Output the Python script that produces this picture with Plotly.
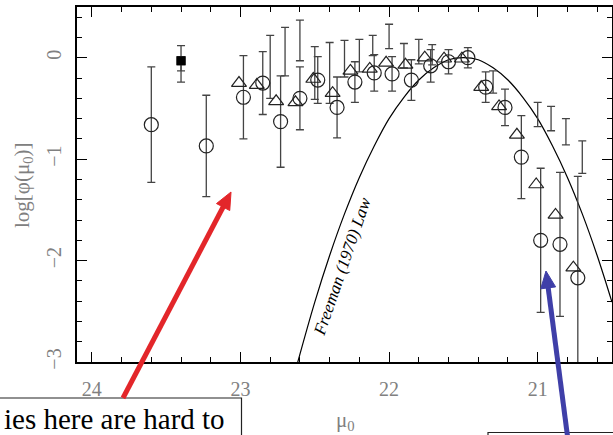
import math
import plotly.graph_objects as go

# ---------------- data ----------------
circ_mu = [23.60, 23.23, 22.98, 22.85, 22.73, 22.60, 22.48, 22.35, 22.23, 22.10, 21.98,
           21.85, 21.72, 21.60, 21.47, 21.35, 21.22, 21.11, 20.98, 20.85, 20.73]
circ_logphi = [-0.66, -0.87, -0.39, -0.25, -0.63, -0.40, -0.22, -0.49, -0.24, -0.15, -0.16,
               -0.22, -0.08, -0.04, 0.00, -0.29, -0.49, -0.98, -1.80, -1.84, -2.17]
circ_err = [0.57, 0.50, 0.41, 0.31, 0.45, 0.31, 0.23, 0.30, 0.20, 0.18, 0.17,
            0.20, 0.16, 0.12, 0.10, 0.15, 0.18, 0.41, 0.71, 0.71, 1.00]

tri_mu = [23.01, 22.89, 22.76, 22.63, 22.51, 22.38, 22.26, 22.13, 22.02, 21.89,
          21.76, 21.63, 21.51, 21.38, 21.26, 21.14, 21.01, 20.88, 20.76]
tri_logphi = [-0.25, -0.27, -0.43, -0.44, -0.21, -0.35, -0.13, -0.11, -0.05, -0.07,
              0.00, -0.01, -0.01, -0.29, -0.48, -0.76, -1.25, -1.55, -2.07]

bar_mu = [22.80, 22.70, 22.60, 22.50, 22.40, 22.30, 22.20, 22.11, 22.00, 21.90,
          21.80, 21.71, 21.30, 21.00, 20.91, 20.81, 20.70]
bar_center = [-0.09, 0.06, 0.17, -0.15, -0.15, -0.01, 0.02, 0.12, 0.21, 0.02,
              0.06, 0.03, -0.24, -0.56, -0.60, -0.73, -0.98]
bar_err = [0.31, 0.24, 0.20, 0.26, 0.30, 0.18, 0.16, 0.10, 0.12, 0.12,
           0.12, 0.10, 0.11, 0.12, 0.12, 0.13, 0.16]

sq_mu = [23.40]
sq_logphi = [-0.03]
sq_outer_plus, sq_outer_minus = [0.15], [0.21]
sq_inner_plus, sq_inner_minus = [0.04], [0.10]

free_mu = [22.62, 22.5, 22.4, 22.3, 22.2, 22.1, 22.0, 21.9, 21.8, 21.7, 21.6, 21.5,
           21.4, 21.3, 21.2, 21.1, 21.0, 20.9, 20.8, 20.7, 20.6, 20.5]
free_logphi = [-3.03, -2.41, -1.95, -1.54, -1.18, -0.87, -0.60, -0.39, -0.22, -0.10, -0.02, 0.0,
               -0.02, -0.10, -0.22, -0.39, -0.60, -0.87, -1.18, -1.54, -1.95, -2.41]

x_ticks = [24, 23, 22, 21]
x_ticktext = ["24", "23", "22", "21"]
y_ticks = [0, -1, -2, -3]
y_ticktext = ["0", "\u22121", "\u22122", "\u22123"]

# ---------------- figure ----------------
INK = "#222222"
BAR = "#444444"
fig = go.Figure()

fig.add_trace(go.Scatter(
    x=free_mu, y=free_logphi, mode="lines",
    line=dict(color="black", width=1.2, shape="spline", smoothing=1.0),
    hoverinfo="skip"))

fig.add_trace(go.Scatter(
    x=bar_mu, y=bar_center, mode="markers",
    marker=dict(size=1, color="rgba(0,0,0,0)"),
    error_y=dict(type="data", array=bar_err, color=BAR, thickness=1.3, width=4)))

fig.add_trace(go.Scatter(
    x=circ_mu, y=circ_logphi, mode="markers",
    marker=dict(symbol="circle-open", size=14, color=INK, line=dict(width=1.2, color=INK)),
    error_y=dict(type="data", array=circ_err, color=BAR, thickness=1.3, width=4)))

fig.add_trace(go.Scatter(
    x=tri_mu, y=tri_logphi, mode="markers",
    marker=dict(symbol="triangle-up-open", size=13, color=INK, line=dict(width=1.2, color=INK))))

fig.add_trace(go.Scatter(
    x=sq_mu, y=sq_logphi, mode="markers",
    marker=dict(symbol="square", size=9, color="black"),
    error_y=dict(type="data", symmetric=False, array=sq_outer_plus, arrayminus=sq_outer_minus,
                 color=BAR, thickness=1.3, width=4)))
fig.add_trace(go.Scatter(
    x=sq_mu, y=sq_logphi, mode="markers",
    marker=dict(symbol="square", size=9, color="black"),
    error_y=dict(type="data", symmetric=False, array=sq_inner_plus, arrayminus=sq_inner_minus,
                 color=BAR, thickness=1.3, width=4)))

W, H = 613, 435
L, R, T, B = 77, 1, 7, 73
pw, ph = W - L - R, H - T - B


def px(xp):
    return (xp - L) / pw


def py(yp):
    return (H - B - yp) / ph


TICKFONT = dict(family="Liberation Serif", size=20, color="#808080")

fig.update_layout(
    width=W, height=H,
    margin=dict(l=L, r=R, t=T, b=B, autoexpand=False),
    paper_bgcolor="white", plot_bgcolor="white",
    showlegend=False,
    xaxis=dict(range=[24.1, 20.5], tickvals=x_ticks, ticktext=x_ticktext,
               ticks="inside", ticklen=10, tickwidth=1.2, tickcolor="black",
               minor=dict(dtick=0.2, tick0=24, ticks="inside", ticklen=5.5, tickwidth=1.2, tickcolor="black"),
               showline=True, linecolor="black", linewidth=1.5, mirror="allticks",
               showgrid=False, zeroline=False, tickfont=TICKFONT, ticklabelstandoff=8,
               automargin=False),
    yaxis=dict(range=[-3, 0.5], tickvals=y_ticks, ticktext=y_ticktext, tickangle=-90,
               ticks="inside", ticklen=10, tickwidth=1.2, tickcolor="black",
               minor=dict(dtick=0.2, tick0=0, ticks="inside", ticklen=5.5, tickwidth=1.2, tickcolor="black"),
               showline=True, linecolor="black", linewidth=1.5, mirror="allticks",
               showgrid=False, zeroline=False, tickfont=TICKFONT, ticklabelstandoff=6,
               automargin=False),
)

annotations = [
    # axis titles
    dict(text="log[\u03c6(\u03bc<sub>0</sub>)]", x=px(23), y=py(185), xref="paper", yref="paper",
         xanchor="center", yanchor="middle",
         textangle=-90, showarrow=False, font=dict(family="Liberation Serif", size=21, color="#808080")),
    dict(text="\u03bc<sub>0</sub>", x=px(345), y=py(421), xref="paper", yref="paper",
         xanchor="center", yanchor="middle",
         showarrow=False, font=dict(family="Liberation Serif", size=21, color="#808080")),
    # curve label
    dict(text="<i>Freeman (1970) Law</i>", x=px(342), y=py(266), xref="paper", yref="paper",
         xanchor="center", yanchor="middle",
         textangle=-71, showarrow=False, font=dict(family="Liberation Serif", size=17, color="black")),
    # text box content
    dict(text="ies here are hard to", x=px(2), y=py(419), xref="paper", yref="paper",
         xanchor="left", yanchor="middle", showarrow=False,
         font=dict(family="Liberation Serif", size=29, color="black")),
]
fig.update_layout(annotations=annotations)


def arrow_shapes(tail, tip, color, width=5, head_len=17, head_half=7.5):
    dx, dy = tip[0] - tail[0], tip[1] - tail[1]
    n = math.hypot(dx, dy)
    ux, uy = dx / n, dy / n
    bx, by = tip[0] - head_len * ux, tip[1] - head_len * uy
    nx, ny = -uy, ux
    c1 = (bx + head_half * nx, by + head_half * ny)
    c2 = (bx - head_half * nx, by - head_half * ny)
    path = "M {:.4f},{:.4f} L {:.4f},{:.4f} L {:.4f},{:.4f} Z".format(
        px(tip[0]), py(tip[1]), px(c1[0]), py(c1[1]), px(c2[0]), py(c2[1]))
    return [
        dict(type="line", xref="paper", yref="paper",
             x0=px(tail[0]), y0=py(tail[1]), x1=px(bx + 2 * ux), y1=py(by + 2 * uy),
             line=dict(color=color, width=width), layer="above"),
        dict(type="path", xref="paper", yref="paper", path=path,
             fillcolor=color, line=dict(color=color, width=1), layer="above"),
    ]


shapes = [
    dict(type="rect", xref="paper", yref="paper", x0=px(-10), x1=px(241.5), y0=py(460), y1=py(398),
         line=dict(color="#222222", width=1.2), fillcolor="white", layer="above"),
    dict(type="rect", xref="paper", yref="paper", x0=px(488), x1=px(640), y0=py(460), y1=py(432.5),
         line=dict(color="#222222", width=1.2), fillcolor="white", layer="above"),
]
shapes += arrow_shapes((123, 398), (231, 192), "#e3262a")
shapes += arrow_shapes((568, 440), (546, 271), "#3f3fa8")
fig.update_layout(shapes=shapes)

fig.write_html("out.html")
